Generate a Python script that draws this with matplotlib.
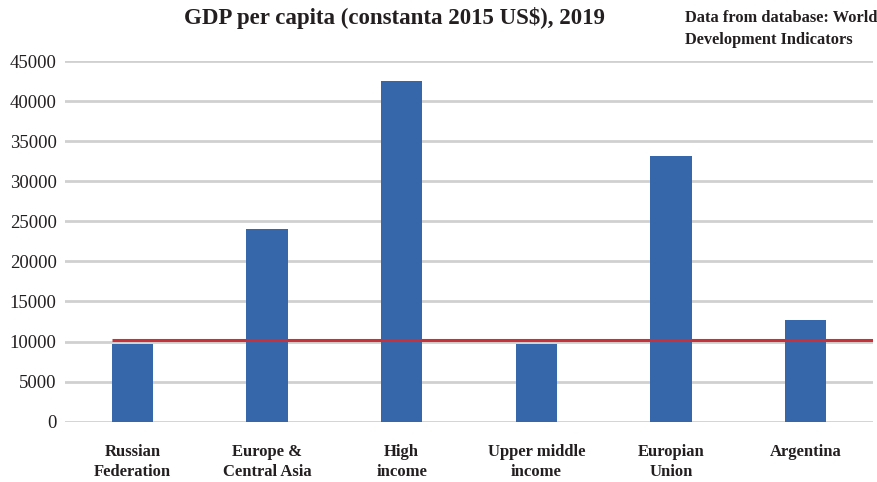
import matplotlib
matplotlib.use("Agg")
import matplotlib.pyplot as plt

categories = ["Russian\nFederation", "Europe &\nCentral Asia", "High\nincome",
              "Upper middle\nincome", "Europian\nUnion", "Argentina"]
values = [9660, 24050, 42550, 9700, 33150, 12700]
reference_value = 10200
yticks = [0, 5000, 10000, 15000, 20000, 25000, 30000, 35000, 40000, 45000]

plt.rcParams['font.family'] = ['Liberation Serif', 'DejaVu Serif']

fig = plt.figure(figsize=(8.77, 4.82), dpi=100)
ax = fig.add_axes([65/877, 60.3/482, 808/877, 360.7/482])

x = list(range(len(categories)))
ax.bar(x, values, width=0.305, color="#3767AB", zorder=3)
ax.hlines(reference_value, -0.153, 5.5, color="#C8303A", linewidth=2.2, zorder=4)

ax.set_xlim(-0.5, 5.5)
ax.set_ylim(0, 45000)
ax.set_yticks(yticks)
ax.set_yticklabels([str(v) for v in yticks], fontsize=13.5, color="#231F20")
ax.yaxis.grid(True, color="#D0D0D0", linewidth=2, zorder=0)
ax.tick_params(axis='y', length=0, pad=6)
ax.tick_params(axis='x', length=0, pad=16)
ax.set_xticks(x)
ax.set_xticklabels(categories, fontsize=12, fontweight='bold', color="#231F20",
                   linespacing=1.3)
for s in ax.spines.values():
    s.set_visible(False)

fig.text(395/877, 1 - 18/482, "GDP per capita (constanta 2015 US$), 2019",
         ha='center', va='center', fontsize=16.5, fontweight='bold', color="#231F20")
fig.text(685/877, 1 - 29/482, "Data from database: World\nDevelopment Indicators",
         ha='left', va='center', fontsize=11.8, fontweight='bold', color="#231F20",
         linespacing=1.55)

fig.savefig("out.png", dpi=100)
